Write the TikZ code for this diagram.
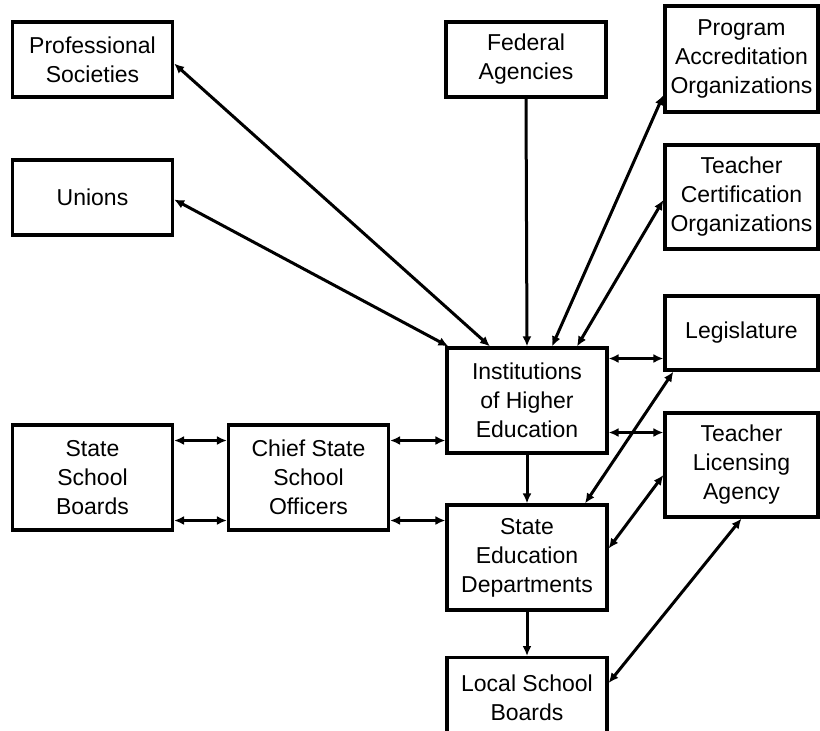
\documentclass[tikz,border=0pt]{standalone}
\usepackage{fontspec}
\setmainfont{Liberation Sans}
\usetikzlibrary{arrows.meta}

\tikzset{
    box/.style={draw, line width=3.2pt, align=center, inner sep=0pt,
        minimum width=160pt, font=\fontsize{23}{29}\selectfont},
    link/.style={line width=3pt, <->},
    oneway/.style={line width=3pt, ->},
}

\begin{document}
\begin{tikzpicture}[x=1pt, y=-1pt, >={Latex[length=10pt,width=9pt]}]
    \clip (0,0) rectangle (820,731);
    \node [box, minimum height=75pt] (prof) at (92.5,59.5) {Professional\\Societies};
    \node [box, minimum height=75pt] (unions) at (92.5,197.5) {Unions};
    \node [box, minimum height=75pt] (federal) at (526,59.5) {Federal\\Agencies};
    \node [box, minimum width=153pt, minimum height=106pt] (accred) at (741.5,59) {Program\\Accreditation\\Organizations};
    \node [box, minimum width=153pt, minimum height=104pt] (certif) at (741.5,197) {Teacher\\Certification\\Organizations};
    \node [box, minimum width=153pt, minimum height=74pt] (legis) at (741.5,333) {Legislature};
    \node [box, minimum width=153pt, minimum height=104pt] (licens) at (741.5,465) {Teacher\\Licensing\\Agency};
    \node [box, minimum height=105pt] (ihe) at (527,400.5) {Institutions\\of Higher\\Education};
    \node [box, minimum height=105pt] (sed) at (527,557.5) {State\\Education\\Departments};
    \node [box, minimum height=80pt, anchor=north] (lsb) at (527,656) {Local School\\Boards};
    \node [box, minimum height=105pt] (ssb) at (92.5,477.5) {State\\School\\Boards};
    \node [box, minimum height=105pt] (csso) at (308.5,477.5) {Chief State\\School\\Officers};

    \draw [link] ([yshift=-4pt]prof.east) -- ([xshift=-37pt]ihe.north);
    \draw [link] ([yshift=-2pt]unions.east) -- ([xshift=3pt]ihe.north west);
    \draw [oneway] (federal.south) -- (ihe.north);
    \draw [link] ([yshift=-36pt]accred.west) -- ([xshift=25pt]ihe.north);
    \draw [link] ([yshift=-3pt]certif.west) -- ([xshift=50pt]ihe.north);
    \draw [link] ([yshift=42pt]ihe.east) -- ([yshift=42pt]ihe.east -| legis.west);
    \draw [link] ([yshift=-32pt]ihe.east) -- ([yshift=-32pt]ihe.east -| licens.west);
    \draw [link] ([xshift=10pt]legis.south west) -- ([xshift=58pt]sed.north);
    \draw [link] ([yshift=-10pt]licens.west) -- ([yshift=9pt]sed.east);
    \draw [link] (licens.south) -- ([yshift=-27pt]lsb.north east);
    \draw [oneway] (ihe.south) -- (sed.north);
    \draw [oneway] (sed.south) -- (lsb.north);
    \draw [link] ([yshift=37pt]csso.east) -- ([yshift=37pt]csso.east -| ihe.west);
    \draw [link] ([yshift=-43pt]csso.east) -- ([yshift=-43pt]csso.east -| sed.west);
    \draw [link] ([yshift=37pt]ssb.east) -- ([yshift=37pt]ssb.east -| csso.west);
    \draw [link] ([yshift=-43pt]ssb.east) -- ([yshift=-43pt]ssb.east -| csso.west);
\end{tikzpicture}
\end{document}
